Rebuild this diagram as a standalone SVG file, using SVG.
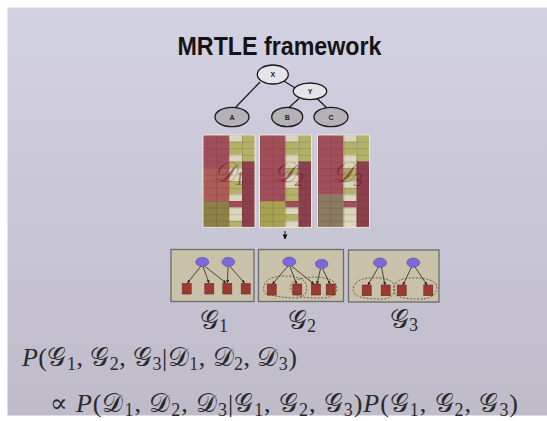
<svg xmlns="http://www.w3.org/2000/svg" width="547" height="421" viewBox="0 0 547 421">
<defs>
<linearGradient id="bg" x1="0" y1="0" x2="0" y2="1">
<stop offset="0" stop-color="#d3d2e2"/>
<stop offset="0.5" stop-color="#c9c6d6"/>
<stop offset="1" stop-color="#bfbbc9"/>
</linearGradient>
<pattern id="grid" width="13" height="6.6" patternUnits="userSpaceOnUse">
<path d="M0 0.3H13M0.3 0V6.6" stroke="#3e3018" stroke-width="0.7" stroke-opacity="0.32" fill="none"/>
</pattern>
<marker id="ah" viewBox="0 0 6 6" refX="5.5" refY="3" markerWidth="4" markerHeight="4" orient="auto">
<path d="M0 0L6 3L0 6Z" fill="#2e2418"/>
</marker>
<marker id="ahb" viewBox="0 0 6 6" refX="5.5" refY="3" markerWidth="5" markerHeight="5" orient="auto">
<path d="M0 0L6 3L0 6Z" fill="#111"/>
</marker>
</defs>
<style>
.title{font-family:"Liberation Sans",Arial,sans-serif;font-weight:bold;font-size:25px;fill:#141414}
.tn{stroke:#1a1a1a;stroke-width:1.3}
.tw{fill:#e6e4ea}
.tg{fill:#b5b1b6}
.tl{font-family:"Liberation Sans",Arial,sans-serif;font-size:7px;font-weight:bold;fill:#222;text-anchor:middle}
.te{stroke:#1a1a1a;stroke-width:1.3;fill:none}
.R{fill:#a24e5a}.DR{fill:#8c404b}.G{fill:#b3b268}.C{fill:#dad6bc}.O1{fill:#8f8048}.O2{fill:#a8a252}.O3{fill:#8c7a62}
.dl{font-family:"Liberation Serif","DejaVu Serif",serif;fill:#6a1018;fill-opacity:0.55}
.box{fill:#c9c1aa;stroke:#6c6c6c;stroke-width:1.3}
.pe{fill:#7b6ad8;stroke:#5546a8;stroke-width:0.6}
.sq{fill:#9c3a32;stroke:#6a2a20;stroke-width:0.6}
.ed{stroke:#2e2418;stroke-width:0.8;fill:none;marker-end:url(#ah)}
.lp{fill:none;stroke:#5a4a30;stroke-width:0.8;stroke-dasharray:2 1.5}
.m{font-family:"Liberation Serif","DejaVu Serif",serif;font-size:26px;fill:#2a2a2a}
.sub{font-size:18px}
</style>
<rect width="547" height="421" fill="#ffffff"/>
<rect x="7.5" y="7.5" width="539.5" height="408" fill="url(#bg)"/>

<text class="title" x="177.5" y="55" textLength="204" lengthAdjust="spacingAndGlyphs">MRTLE framework</text>

<g id="connectors">
<line class="te" x1="260" y1="82" x2="235" y2="108"/>
<line class="te" x1="283" y1="80.5" x2="296" y2="88.5"/>
<line class="te" x1="299" y1="98.5" x2="289" y2="107.5"/>
<line class="te" x1="317" y1="98.5" x2="326.5" y2="107.5"/>
<line x1="285" y1="231" x2="285" y2="239" stroke="#111" stroke-width="1" marker-end="url(#ahb)"/>
</g>

<g id="node-X"><ellipse class="tn tw" cx="272.8" cy="74.5" rx="15.5" ry="9.5"/><text class="tl" x="272.8" y="77">X</text></g>
<g id="node-Y"><ellipse class="tn tw" cx="310" cy="91.3" rx="16.7" ry="8.3"/><text class="tl" x="310" y="93.8">Y</text></g>
<g id="node-A"><ellipse class="tn tg" cx="232" cy="117" rx="17" ry="9.7"/><text class="tl" x="232" y="119.5">A</text></g>
<g id="node-B"><ellipse class="tn tg" cx="287.2" cy="117" rx="15.5" ry="9.7"/><text class="tl" x="287.2" y="119.5">B</text></g>
<g id="node-C"><ellipse class="tn tg" cx="331" cy="117" rx="17" ry="9.7"/><text class="tl" x="331" y="119.5">C</text></g>

<g id="matrix-D1" transform="translate(203 135)">
<rect class="R" x="0" y="0" width="26" height="66"/>
<rect x="0" y="33" width="26" height="33" fill="#c27a5a" fill-opacity="0.35"/>
<rect class="O1" x="0" y="66" width="26" height="26.4"/>
<rect class="C" x="26" y="0" width="13" height="6.6"/>
<rect class="G" x="26" y="6.6" width="13" height="13.2"/>
<rect class="C" x="26" y="19.8" width="13" height="6.6"/>
<rect class="G" x="26" y="26.4" width="13" height="6.6"/>
<rect class="C" x="26" y="33" width="13" height="13.2"/>
<rect class="G" x="26" y="46.2" width="13" height="13.2"/>
<rect class="C" x="26" y="59.4" width="13" height="6.6"/>
<rect class="R" x="26" y="66" width="13" height="6.6"/>
<rect class="C" x="26" y="72.6" width="13" height="13.2"/>
<rect class="G" x="26" y="85.8" width="13" height="6.6"/>
<rect class="G" x="39" y="0" width="13" height="26.4"/>
<rect class="DR" x="39" y="26.4" width="13" height="66"/>
<rect x="0" y="0" width="52" height="92.4" fill="url(#grid)"/>
<rect x="0" y="0" width="52" height="92.4" fill="none" stroke="#ebe7dc" stroke-width="1"/>
<text class="dl" x="10" y="47" font-size="28" font-style="italic">𝒟<tspan font-size="18" dy="3">1</tspan></text>
</g>

<g id="matrix-D2" transform="translate(259.5 135)">
<rect class="R" x="0" y="0" width="26" height="66"/>
<rect class="O2" x="0" y="66" width="26" height="26.4"/>
<rect class="C" x="26" y="0" width="13" height="6.6"/>
<rect class="G" x="26" y="6.6" width="13" height="13.2"/>
<rect class="C" x="26" y="19.8" width="13" height="13.2"/>
<rect class="G" x="26" y="33" width="13" height="6.6"/>
<rect class="C" x="26" y="39.6" width="13" height="13.2"/>
<rect class="G" x="26" y="52.8" width="13" height="13.2"/>
<rect class="R" x="26" y="66" width="13" height="6.6"/>
<rect class="C" x="26" y="72.6" width="13" height="6.6"/>
<rect class="G" x="26" y="79.2" width="13" height="6.6"/>
<rect class="C" x="26" y="85.8" width="13" height="6.6"/>
<rect class="G" x="39" y="0" width="13" height="26.4"/>
<rect class="DR" x="39" y="26.4" width="13" height="66"/>
<rect x="0" y="0" width="52" height="92.4" fill="url(#grid)"/>
<rect x="0" y="0" width="52" height="92.4" fill="none" stroke="#ebe7dc" stroke-width="1"/>
<text class="dl" x="13" y="47" font-size="28" font-style="italic">𝒟<tspan font-size="18" dy="4">2</tspan></text>
</g>

<g id="matrix-D3" transform="translate(317.5 135)">
<rect class="R" x="0" y="0" width="26" height="59.4"/>
<rect class="O3" x="0" y="59.4" width="26" height="33"/>
<rect class="C" x="26" y="0" width="13" height="6.6"/>
<rect class="G" x="26" y="6.6" width="13" height="13.2"/>
<rect class="C" x="26" y="19.8" width="13" height="13.2"/>
<rect class="G" x="26" y="33" width="13" height="13.2"/>
<rect class="C" x="26" y="46.2" width="13" height="6.6"/>
<rect class="G" x="26" y="52.8" width="13" height="6.6"/>
<rect class="C" x="26" y="59.4" width="13" height="6.6"/>
<rect class="R" x="26" y="66" width="13" height="6.6"/>
<rect class="C" x="26" y="72.6" width="13" height="19.8"/>
<rect class="G" x="39" y="0" width="13" height="26.4"/>
<rect class="DR" x="39" y="26.4" width="13" height="66"/>
<rect x="0" y="0" width="52" height="92.4" fill="url(#grid)"/>
<rect x="0" y="0" width="52" height="92.4" fill="none" stroke="#ebe7dc" stroke-width="1"/>
<text class="dl" x="14" y="47" font-size="28" font-style="italic">𝒟<tspan font-size="18" dy="4">3</tspan></text>
</g>

<g id="graph-G1">
<rect class="box" x="171" y="249.5" width="83" height="52"/>
<line class="ed" x1="201" y1="266" x2="187.5" y2="283"/>
<line class="ed" x1="203" y1="266.5" x2="209" y2="283"/>
<line class="ed" x1="204.5" y1="266" x2="226" y2="283"/>
<line class="ed" x1="228" y1="266.5" x2="227.5" y2="283"/>
<line class="ed" x1="229.5" y1="266" x2="244.5" y2="283"/>
<ellipse class="pe" cx="202.3" cy="262" rx="6.5" ry="4.6"/>
<ellipse class="pe" cx="228.3" cy="262" rx="6.3" ry="4.6"/>
<rect class="sq" x="182.2" y="283.5" width="9" height="10.5"/>
<rect class="sq" x="204.8" y="283.5" width="9" height="10.5"/>
<rect class="sq" x="222.8" y="283.5" width="9" height="10.5"/>
<rect class="sq" x="241.2" y="283.5" width="9" height="10.5"/>
</g>

<g id="graph-G2">
<rect class="box" x="258.5" y="249.5" width="85" height="52"/>
<line class="ed" x1="288" y1="266" x2="272.5" y2="284"/>
<line class="ed" x1="290" y1="266.5" x2="296.5" y2="284"/>
<line class="ed" x1="291.5" y1="266" x2="314" y2="284"/>
<line class="ed" x1="320.5" y1="268.5" x2="317" y2="284"/>
<line class="ed" x1="322.5" y1="268.5" x2="330" y2="284"/>
<path class="lp" d="M266 282 C270 274 300 274 305 282 C309 290 306 298 296 298 C286 298 278 296 268 295 C262 293 263 286 266 282Z"/>
<path class="lp" d="M292 283 C296 276 330 274 336 284 C339 292 334 298 322 298 C308 298 298 298 293 293 C290 290 290 286 292 283Z"/>
<ellipse class="pe" cx="289.3" cy="261.7" rx="6.5" ry="4.6"/>
<ellipse class="pe" cx="321.7" cy="264" rx="6.3" ry="4.6"/>
<rect class="sq" x="267.2" y="284" width="9" height="11"/>
<rect class="sq" x="292.8" y="284" width="9" height="11"/>
<rect class="sq" x="311.5" y="284" width="9" height="11"/>
<rect class="sq" x="326.2" y="284" width="9" height="11"/>
</g>

<g id="graph-G3">
<rect class="box" x="348.5" y="250" width="90.5" height="52"/>
<line class="ed" x1="378.5" y1="267" x2="368" y2="285"/>
<line class="ed" x1="381.5" y1="267" x2="385" y2="285"/>
<line class="ed" x1="411.5" y1="267" x2="403" y2="285"/>
<line class="ed" x1="415" y1="267" x2="427" y2="285"/>
<path class="lp" d="M356 283 C360 276 388 276 393 283 C397 290 394 299 382 299 C370 299 358 298 355 294 C352 290 353 286 356 283Z"/>
<path class="lp" d="M396 283 C400 276 430 276 436 284 C439 291 434 299 420 299 C408 299 399 298 395 294 C393 290 393 286 396 283Z"/>
<ellipse class="pe" cx="380" cy="262.7" rx="6.5" ry="4.6"/>
<ellipse class="pe" cx="413.3" cy="262.7" rx="6.5" ry="4.6"/>
<rect class="sq" x="362.2" y="285" width="9" height="10.7"/>
<rect class="sq" x="381.2" y="285" width="9" height="10.7"/>
<rect class="sq" x="397.2" y="285" width="9" height="10.7"/>
<rect class="sq" x="423.8" y="285" width="9" height="10.7"/>
</g>

<text class="m" x="200" y="329">𝒢<tspan class="sub" dy="3">1</tspan></text>
<text class="m" x="288" y="329">𝒢<tspan class="sub" dy="3">2</tspan></text>
<text class="m" x="390" y="328">𝒢<tspan class="sub" dy="3">3</tspan></text>

<text class="m" x="22" y="366" textLength="275" lengthAdjust="spacing"><tspan font-style="italic">P</tspan>(𝒢<tspan class="sub" dy="4">1</tspan><tspan dy="-4">, 𝒢</tspan><tspan class="sub" dy="4">2</tspan><tspan dy="-4">, 𝒢</tspan><tspan class="sub" dy="4">3</tspan><tspan dy="-4">|𝒟</tspan><tspan class="sub" dy="4">1</tspan><tspan dy="-4">, 𝒟</tspan><tspan class="sub" dy="4">2</tspan><tspan dy="-4">, 𝒟</tspan><tspan class="sub" dy="4">3</tspan><tspan dy="-4">)</tspan></text>

<text class="m" x="50" y="411.5" textLength="468" lengthAdjust="spacing">∝ <tspan font-style="italic">P</tspan>(𝒟<tspan class="sub" dy="4">1</tspan><tspan dy="-4">, 𝒟</tspan><tspan class="sub" dy="4">2</tspan><tspan dy="-4">, 𝒟</tspan><tspan class="sub" dy="4">3</tspan><tspan dy="-4">|𝒢</tspan><tspan class="sub" dy="4">1</tspan><tspan dy="-4">, 𝒢</tspan><tspan class="sub" dy="4">2</tspan><tspan dy="-4">, 𝒢</tspan><tspan class="sub" dy="4">3</tspan><tspan dy="-4">)</tspan><tspan font-style="italic">P</tspan>(𝒢<tspan class="sub" dy="4">1</tspan><tspan dy="-4">, 𝒢</tspan><tspan class="sub" dy="4">2</tspan><tspan dy="-4">, 𝒢</tspan><tspan class="sub" dy="4">3</tspan><tspan dy="-4">)</tspan></text>
</svg>
